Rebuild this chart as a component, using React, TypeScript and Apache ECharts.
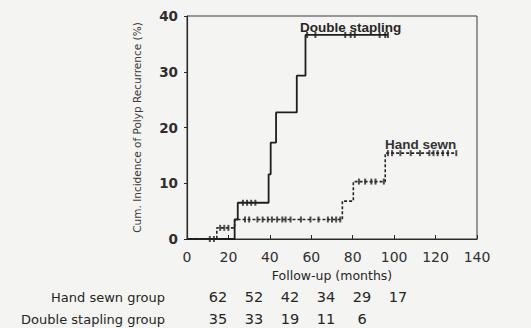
import React, { useEffect, useRef } from "react";
import * as echarts from "echarts";

// Kaplan-Meier step events (months, cumulative incidence %)
const dsTimes = [0, 23, 24.5, 39.4, 40.4, 43, 53, 57.2, 97];
const dsValues = [0, 3.5, 6.5, 11.6, 17.3, 22.7, 29.3, 36.6, 36.6];
const hsTimes = [0, 14.4, 23, 75, 80.3, 95.7, 130];
const hsValues = [0, 2, 3.5, 6.8, 10.3, 15.4, 15.4];

// censored observations (months)
const dsCensor = [27, 29, 31, 33, 58, 62, 76.4, 79, 81, 93, 95.7, 97];
const hsCensor = [
  11, 13, 16, 18, 20, 28, 30, 34, 36.5, 39, 41, 43.5, 46, 47.6, 50, 55, 59.6,
  63.5, 68, 70, 72, 74, 83, 86, 89, 91, 95, 97, 99, 103, 108, 112.5, 117, 119,
  121, 123.5, 126, 130,
];

// numbers at risk
const riskGroups = ["Hand sewn group", "Double stapling group"];
const hsAtRisk = [62, 52, 42, 34, 29, 17];
const dsAtRisk = [35, 33, 19, 11, 6];

const seriesNames = ["Double stapling", "Hand sewn"];
const xTitle = "Follow-up (months)";
const yTitle = "Cum. Incidence of Polyp Recurrence (%)";

function valueAt(times: number[], values: number[], t: number) {
  let v = values[0];
  for (let i = 0; i < times.length; i++) if (times[i] <= t) v = values[i];
  return v;
}

const INK = "#262626";

export default function App() {
  const ref = useRef<HTMLDivElement>(null);
  useEffect(() => {
    if (!ref.current) return;
    const chart = echarts.init(ref.current, undefined, { renderer: "svg" });

    const riskX0 = 218;
    const riskDX = 36;
    const rowY = [297, 319];
    const tableTexts: any[] = [];
    riskGroups.forEach((g, r) => {
      tableTexts.push({
        type: "text",
        x: 165,
        y: rowY[r],
        style: {
          text: g,
          align: "right",
          verticalAlign: "middle",
          fontFamily: "DejaVu Sans",
          fontSize: 13,
          fill: INK,
        },
      });
    });
    [hsAtRisk, dsAtRisk].forEach((arr, r) => {
      arr.forEach((n, i) => {
        tableTexts.push({
          type: "text",
          x: riskX0 + i * riskDX,
          y: rowY[r],
          style: {
            text: String(n),
            align: "center",
            verticalAlign: "middle",
            fontFamily: "DejaVu Sans",
            fontSize: 14.5,
            fill: INK,
          },
        });
      });
    });

    chart.setOption({
      animation: false,
      backgroundColor: "#f4f4f2",
      grid: {
        left: 187,
        right: 54,
        top: 16,
        bottom: 89,
        show: true,
        borderColor: "#3a3a3a",
        borderWidth: 1,
        backgroundColor: "transparent",
        outerBoundsMode: "none",
      },
      xAxis: {
        type: "value",
        min: 0,
        max: 140,
        interval: 20,
        name: xTitle,
        nameLocation: "middle",
        nameGap: 29,
        nameTextStyle: { fontFamily: "DejaVu Sans", fontSize: 12.5, color: INK },
        axisLine: { show: true, lineStyle: { color: "#2a2a2a", width: 1.2 } },
        axisTick: { show: true, inside: true, length: 4, lineStyle: { color: "#2a2a2a" } },
        axisLabel: { margin: 11, fontFamily: "DejaVu Sans", fontSize: 14, color: "#303030" },
        splitLine: { show: false },
      },
      yAxis: {
        type: "value",
        min: 0,
        max: 40,
        interval: 10,
        name: yTitle,
        nameLocation: "middle",
        nameRotate: 90,
        nameGap: 45,
        nameTextStyle: { fontFamily: "DejaVu Sans", fontSize: 10.5, color: "#3a3a3a" },
        axisLine: { show: true, lineStyle: { color: "#2a2a2a", width: 1.2 } },
        axisTick: { show: true, inside: false, length: 3, lineStyle: { color: "#2a2a2a" } },
        axisLabel: {
          margin: 9,
          fontFamily: "DejaVu Sans",
          fontWeight: "bold",
          fontSize: 13.5,
          color: "#2e2e2e",
        },
        splitLine: { show: false },
      },
      series: [
        {
          name: seriesNames[0],
          type: "line",
          step: "end",
          data: dsTimes.map((t, i) => [t, dsValues[i]]),
          showSymbol: false,
          lineStyle: { color: "#1e1e1e", width: 1.8 },
        },
        {
          name: seriesNames[1],
          type: "line",
          step: "end",
          data: hsTimes.map((t, i) => [t, hsValues[i]]),
          showSymbol: false,
          lineStyle: { color: "#262626", width: 1.6, type: [3, 2] },
        },
        {
          type: "scatter",
          data: dsCensor.map((t) => [t, valueAt(dsTimes, dsValues, t)]),
          symbol: "rect",
          symbolSize: [2, 6],
          itemStyle: { color: "#1e1e1e" },
        },
        {
          type: "scatter",
          data: hsCensor.map((t) => [t, valueAt(hsTimes, hsValues, t)]),
          symbol: "rect",
          symbolSize: [2, 6],
          itemStyle: { color: "#262626" },
        },
      ],
      graphic: [
        {
          type: "text",
          x: 300,
          y: 27,
          style: {
            text: seriesNames[0],
            verticalAlign: "middle",
            fontFamily: "Liberation Sans",
            fontWeight: "bold",
            fontSize: 13.5,
            fill: INK,
          },
        },
        {
          type: "text",
          x: 385,
          y: 144,
          style: {
            text: seriesNames[1],
            verticalAlign: "middle",
            fontFamily: "Liberation Sans",
            fontWeight: "bold",
            fontSize: 13.5,
            fill: "#333",
          },
        },
        ...tableTexts,
      ],
    });
    return () => chart.dispose();
  }, []);
  return (
    <div
      ref={ref}
      style={{ position: "fixed", left: 0, top: 0, width: 531, height: 328, background: "#f4f4f2" }}
    />
  );
}
